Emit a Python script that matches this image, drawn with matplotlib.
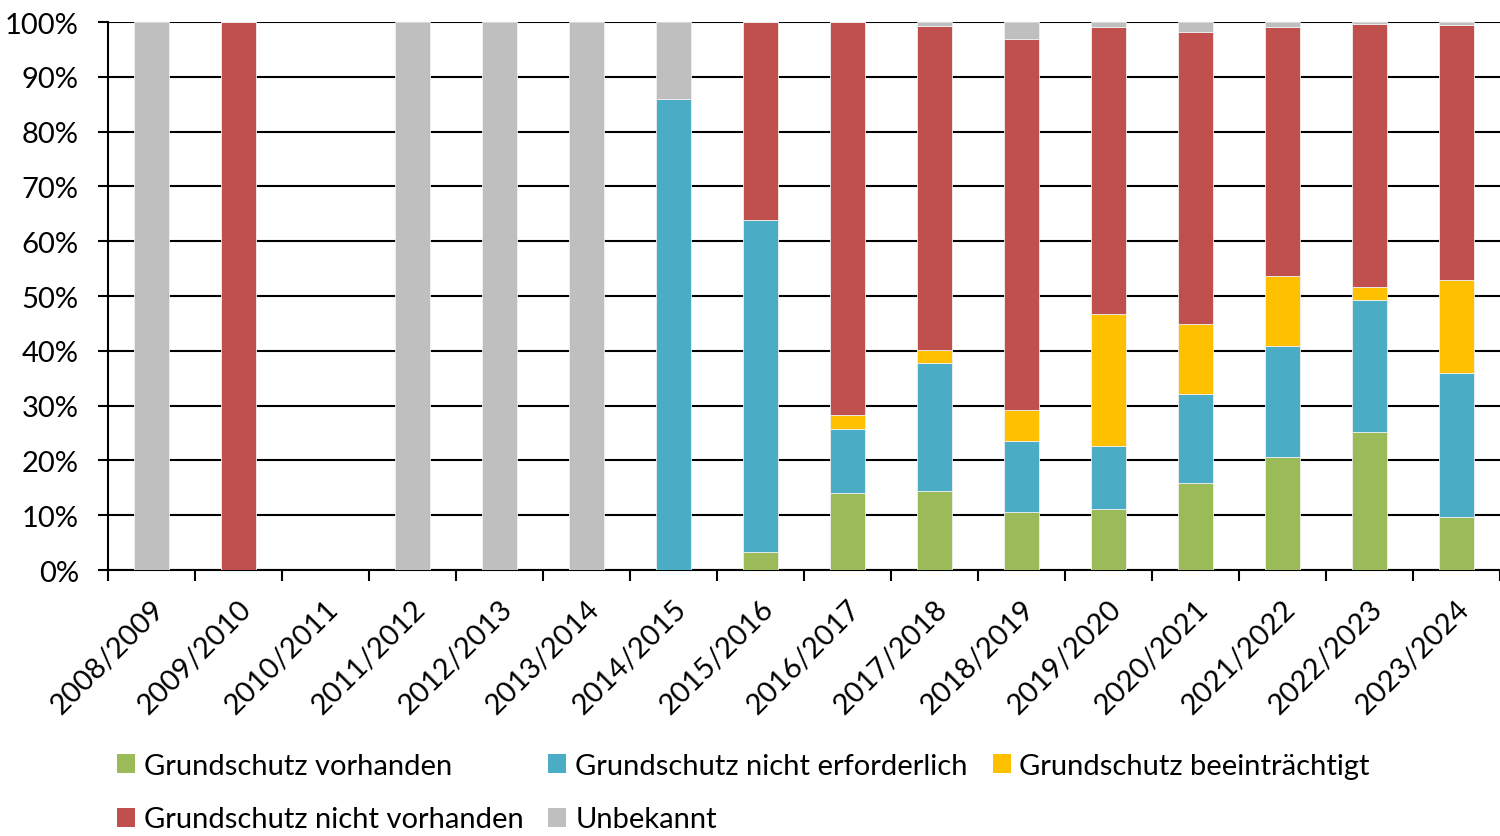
import matplotlib
matplotlib.use("Agg")
import matplotlib.pyplot as plt
import numpy as np
from matplotlib.patches import Patch

plt.rcParams['font.family'] = ['Lato', 'DejaVu Sans']

categories = ["2008/2009", "2009/2010", "2010/2011", "2011/2012", "2012/2013",
              "2013/2014", "2014/2015", "2015/2016", "2016/2017", "2017/2018",
              "2018/2019", "2019/2020", "2020/2021", "2021/2022", "2022/2023",
              "2023/2024"]

vorhanden = [0, 0, 0, 0, 0, 0, 0, 3.2, 14.1, 14.5, 10.5, 11.1, 15.8, 20.6, 25.1, 9.6]
nicht_erforderlich = [0, 0, 0, 0, 0, 0, 86.0, 60.7, 11.6, 23.2, 13.0, 11.5, 16.3, 20.3, 24.2, 26.4]
beeintraechtigt = [0, 0, 0, 0, 0, 0, 0, 0, 2.5, 2.5, 5.7, 24.1, 12.8, 12.8, 2.3, 16.9]
nicht_vorhanden = [0, 100, 0, 0, 0, 0, 0, 36.1, 71.8, 59.1, 67.7, 52.4, 53.3, 45.4, 48.1, 46.6]
unbekannt = [100, 0, 0, 100, 100, 100, 14.0, 0, 0, 0.7, 3.1, 0.9, 1.8, 0.9, 0.3, 0.5]

series = [
    ("Grundschutz vorhanden", vorhanden, "#9BBB59"),
    ("Grundschutz nicht erforderlich", nicht_erforderlich, "#4BACC6"),
    ("Grundschutz beeinträchtigt", beeintraechtigt, "#FFC000"),
    ("Grundschutz nicht vorhanden", nicht_vorhanden, "#C0504D"),
    ("Unbekannt", unbekannt, "#BFBFBF"),
]

FS = 21

fig = plt.figure(figsize=(15, 8.37), dpi=100)
ax = fig.add_axes([0.072, 0.3178, 0.928, 0.6547])

x = np.arange(len(categories))
bottom = np.zeros(len(categories))
handles = []
for name, vals, col in series:
    v = np.array(vals, dtype=float)
    ax.bar(x, v, 0.4, bottom=bottom, color=col, edgecolor="#f0f0f0", linewidth=0.6, zorder=3)
    bottom += v
    handles.append(Patch(facecolor=col, edgecolor='none', label=name))

ax.set_xlim(-0.5, len(categories) - 0.5)
ax.set_ylim(0, 100)
ax.set_yticks(np.arange(0, 101, 10))
ax.set_yticklabels([f"{v}%" for v in range(0, 101, 10)], fontsize=FS)
ax.yaxis.grid(True, color="black", linewidth=1.5, zorder=1)
ax.set_axisbelow(True)

ax.set_xticks(np.arange(-0.5, len(categories), 1.0))
ax.set_xticklabels([])
ax.set_xticks(x, minor=True)
ax.set_xticklabels(categories, minor=True, rotation=45, ha='right', va='top',
                   rotation_mode='anchor', fontsize=FS)
ax.tick_params(axis='x', which='major', length=8, width=1.5, direction='out', color='black')
ax.tick_params(axis='x', which='minor', length=0, pad=18)
ax.tick_params(axis='y', length=7, width=1.5, direction='out', pad=14)

for s in ['top', 'right']:
    ax.spines[s].set_visible(False)
ax.spines['left'].set_linewidth(1.5)
ax.spines['bottom'].set_linewidth(1.5)

order = [0, 3, 1, 4, 2]
leg = fig.legend([handles[i] for i in order], [handles[i].get_label() for i in order],
                 ncol=3, loc='upper left', bbox_to_anchor=(0.078, 0.0995),
                 frameon=False, fontsize=FS, handlelength=0.62, handleheight=0.62,
                 handletextpad=0.3, columnspacing=0.85, labelspacing=0.95,
                 borderaxespad=0, borderpad=0)

fig.savefig("out.png", dpi=100)
